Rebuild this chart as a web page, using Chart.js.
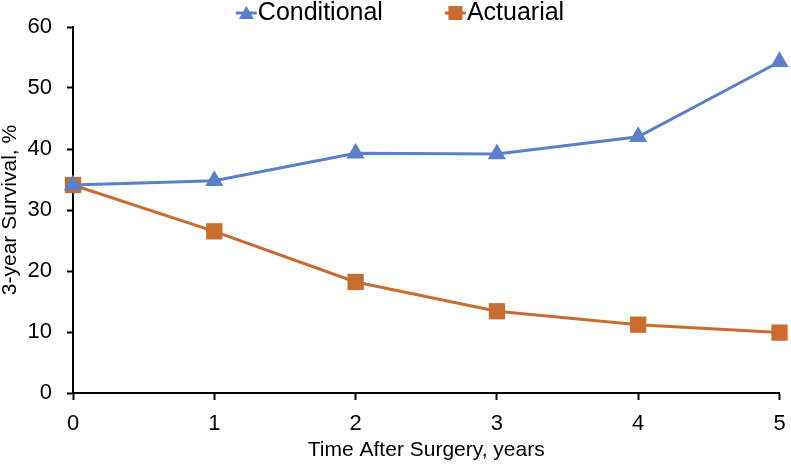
<!DOCTYPE html>
<html>
<head>
<meta charset="utf-8">
<script src="https://cdn.jsdelivr.net/npm/chart.js@4/dist/chart.umd.min.js"></script>
<style>
html,body{margin:0;padding:0;background:#fff;}
#wrap{width:791px;height:465px;position:relative;}
</style>
</head>
<body>
<div id="wrap"><canvas id="c" width="791" height="465"></canvas></div>
<script>
const years = [0, 1, 2, 3, 4, 5];
const conditional = [34.1, 34.8, 39.3, 39.2, 42.0, 54.3];
const actuarial = [34.1, 26.5, 18.2, 13.4, 11.2, 9.9];
const seriesNames = ['Conditional', 'Actuarial'];
const xTitle = 'Time After Surgery, years';
const yTitle = '3-year Survival, %';

const blue = '#5A7FCB';
const orange = '#C86C2F';
const FONT = 'Liberation Sans, Arial, sans-serif';

const legendPlugin = {
  id: 'excelLegend',
  afterDraw(chart) {
    const ctx = chart.ctx;
    const styles = ['triangle', 'rect'];
    ctx.save();
    ctx.font = '25px ' + FONT;
    ctx.textBaseline = 'middle';
    const y = 13;
    const iconW = 21, textGap = 1, itemGap = 62;
    const widths = chart.data.datasets.map(ds => iconW + textGap + ctx.measureText(ds.label).width);
    const total = widths.reduce((a, b) => a + b, 0) + itemGap * (widths.length - 1);
    let x = 400 - total / 2;
    chart.data.datasets.forEach((ds, i) => {
      const c = ds.borderColor;
      ctx.strokeStyle = c; ctx.lineWidth = 3;
      ctx.beginPath(); ctx.moveTo(x, y); ctx.lineTo(x + iconW, y); ctx.stroke();
      ctx.fillStyle = c;
      const cx = x + iconW / 2;
      if (styles[i] === 'triangle') {
        ctx.beginPath(); ctx.moveTo(cx, y - 7); ctx.lineTo(cx + 7.5, y + 6); ctx.lineTo(cx - 7.5, y + 6); ctx.closePath(); ctx.fill();
      } else {
        ctx.fillRect(cx - 7, y - 7, 14, 14);
      }
      ctx.fillStyle = '#000';
      ctx.textAlign = 'left';
      ctx.fillText(ds.label, x + iconW + textGap, y);
      x += widths[i] + itemGap;
    });
    ctx.restore();
  }
};

new Chart(document.getElementById('c'), {
  type: 'line',
  data: {
    datasets: [
      {
        label: seriesNames[0],
        data: years.map((x, i) => ({x: x, y: conditional[i]})),
        borderColor: blue, backgroundColor: blue,
        borderWidth: 3, pointStyle: 'triangle', pointRadius: 10.5, pointHoverRadius: 10.5,
        pointBorderWidth: 0, tension: 0, clip: false
      },
      {
        label: seriesNames[1],
        data: years.map((x, i) => ({x: x, y: actuarial[i]})),
        borderColor: orange, backgroundColor: orange,
        borderWidth: 3, pointStyle: 'rect', pointRadius: 11.5, pointHoverRadius: 11.5,
        pointBorderWidth: 0, tension: 0, clip: false
      }
    ]
  },
  plugins: [legendPlugin],
  options: {
    responsive: false,
    animation: false,
    layout: {padding: {left: 0, right: 7, top: 27, bottom: 0}},
    plugins: {
      legend: {display: false},
      tooltip: {enabled: false}
    },
    scales: {
      x: {
        type: 'linear', min: 0, max: 5,
        afterFit: (s) => { s.height = 72; s.paddingLeft = 0; s.paddingRight = 0; },
        grid: {display: true, drawOnChartArea: false, drawTicks: true, tickLength: 7, tickColor: '#000', tickWidth: 2},
        border: {color: '#000', width: 2},
        ticks: {stepSize: 1, color: '#000', font: {family: FONT, size: 22}, padding: 11},
        title: {display: true, text: xTitle, color: '#000', font: {family: FONT, size: 21, lineHeight: 1.2}, padding: {top: 0, bottom: 2}}
      },
      y: {
        min: 0, max: 60,
        afterFit: (s) => { s.width = 73; s.paddingTop = 0; s.paddingBottom = 0; },
        grid: {display: true, drawOnChartArea: false, drawTicks: true, tickLength: 6, tickColor: '#000', tickWidth: 2},
        border: {color: '#000', width: 2},
        ticks: {stepSize: 10, color: '#000', font: {family: FONT, size: 22}, padding: 15},
        title: {display: true, text: yTitle, color: '#000', font: {family: FONT, size: 21, lineHeight: 1}, padding: {top: 0, bottom: 0}}
      }
    }
  }
});
</script>
</body>
</html>
